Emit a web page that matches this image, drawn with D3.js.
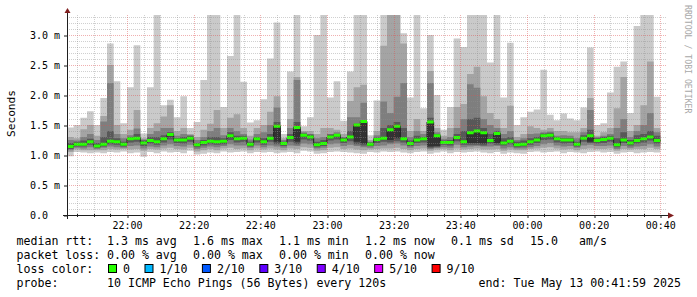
<!DOCTYPE html>
<html>
<head>
<meta charset="utf-8">
<script src="https://cdn.jsdelivr.net/npm/d3@7"></script>
<style>
  body { margin: 0; background: #fff; }
  svg { display: block; }
  text { font-family: "DejaVu Sans Mono", monospace; }
</style>
</head>
<body>
<div id="chart"></div>
<script>
// ---- data (ms), one value per 2 minute step, 10 sorted pings per step ----
const median = [1.14,1.18,1.18,1.22,1.15,1.18,1.23,1.22,1.18,1.27,
  1.28,1.20,1.24,1.22,1.27,1.34,1.25,1.25,1.28,1.17,
  1.21,1.23,1.22,1.23,1.32,1.27,1.28,1.18,1.27,1.22,
  1.28,1.48,1.19,1.29,1.46,1.33,1.30,1.17,1.19,1.30,
  1.33,1.25,1.30,1.50,1.56,1.18,1.26,1.28,1.42,1.48,
  1.27,1.19,1.25,1.27,1.55,1.32,1.21,1.21,1.29,1.22,
  1.37,1.40,1.37,1.24,1.36,1.20,1.23,1.17,1.18,1.22,
  1.25,1.32,1.33,1.27,1.25,1.25,1.18,1.28,1.32,1.24,
  1.26,1.28,1.17,1.25,1.20,1.24,1.27,1.30,1.24];
const ping1 = [0.98,1.05,1.04,1.03,1.04,1.03,1.05,1.04,1.06,1.03,
  1.04,0.97,1.05,1.03,1.06,1.04,1.05,1.03,1.07,1.01,
  1.02,1.04,1.03,1.06,1.04,1.05,1.06,1.03,1.05,1.04,
  1.05,1.03,1.04,1.05,1.03,1.07,1.06,1.02,1.03,1.05,
  1.06,1.05,1.04,1.03,1.02,1.05,1.04,1.06,1.05,1.06,
  1.04,1.03,1.05,1.06,1.02,1.04,1.06,1.03,1.05,1.04,
  1.05,1.06,1.04,1.03,1.05,1.02,1.04,1.03,1.02,1.05,
  1.06,1.04,1.05,1.06,1.03,1.05,1.04,1.03,1.05,1.06,
  1.04,1.05,1.02,1.04,1.05,1.03,1.04,1.05,1.04];
const ping2 = [1.05,1.09,1.08,1.08,1.08,1.08,1.10,1.09,1.10,1.09,
  1.10,1.07,1.10,1.09,1.11,1.12,1.10,1.09,1.12,1.06,
  1.08,1.10,1.08,1.11,1.12,1.10,1.11,1.08,1.11,1.09,
  1.11,1.09,1.08,1.11,1.10,1.13,1.12,1.07,1.08,1.12,
  1.13,1.10,1.11,1.09,1.08,1.09,1.10,1.11,1.11,1.12,
  1.10,1.08,1.10,1.11,1.07,1.09,1.10,1.08,1.11,1.09,
  1.10,1.11,1.09,1.09,1.10,1.07,1.09,1.08,1.08,1.10,
  1.11,1.12,1.13,1.11,1.09,1.10,1.08,1.10,1.11,1.10,
  1.10,1.11,1.07,1.10,1.09,1.10,1.10,1.12,1.10];
const ping3 = [1.08,1.12,1.11,1.13,1.10,1.12,1.14,1.13,1.12,1.15,
  1.16,1.11,1.14,1.13,1.16,1.18,1.15,1.14,1.17,1.10,
  1.12,1.14,1.13,1.15,1.18,1.16,1.16,1.12,1.16,1.13,
  1.16,1.14,1.12,1.16,1.15,1.19,1.18,1.11,1.12,1.18,
  1.19,1.15,1.17,1.15,1.13,1.12,1.15,1.16,1.18,1.19,
  1.16,1.12,1.15,1.16,1.10,1.12,1.13,1.12,1.17,1.13,
  1.14,1.15,1.14,1.14,1.15,1.11,1.13,1.11,1.11,1.13,
  1.15,1.18,1.20,1.16,1.14,1.15,1.12,1.16,1.17,1.15,
  1.15,1.16,1.10,1.15,1.12,1.14,1.15,1.18,1.14];
const ping4 = [1.10,1.14,1.14,1.17,1.12,1.14,1.18,1.17,1.14,1.21,
  1.22,1.15,1.19,1.17,1.21,1.26,1.20,1.19,1.22,1.13,
  1.16,1.18,1.17,1.18,1.25,1.21,1.22,1.14,1.21,1.17,
  1.22,1.18,1.15,1.22,1.18,1.26,1.24,1.13,1.15,1.24,
  1.26,1.20,1.23,1.18,1.16,1.15,1.20,1.22,1.21,1.23,
  1.21,1.15,1.20,1.21,1.12,1.13,1.17,1.16,1.23,1.17,
  1.17,1.17,1.16,1.19,1.17,1.16,1.18,1.13,1.14,1.17,
  1.20,1.25,1.26,1.21,1.19,1.20,1.14,1.22,1.20,1.19,
  1.20,1.22,1.13,1.20,1.16,1.19,1.21,1.24,1.19];
const ping5 = [1.12,1.16,1.16,1.20,1.13,1.16,1.21,1.20,1.16,1.25,
  1.26,1.18,1.22,1.20,1.25,1.31,1.23,1.23,1.26,1.15,
  1.19,1.21,1.20,1.21,1.29,1.25,1.26,1.16,1.25,1.20,
  1.26,1.22,1.17,1.27,1.22,1.31,1.28,1.15,1.17,1.28,
  1.31,1.23,1.28,1.22,1.19,1.16,1.24,1.26,1.25,1.28,
  1.25,1.17,1.23,1.25,1.14,1.15,1.19,1.19,1.27,1.20,
  1.20,1.20,1.19,1.22,1.20,1.18,1.21,1.15,1.16,1.20,
  1.23,1.30,1.31,1.25,1.23,1.23,1.16,1.26,1.22,1.22,
  1.24,1.26,1.15,1.23,1.18,1.22,1.25,1.28,1.22];
const ping6 = [1.16,1.20,1.20,1.24,1.17,1.20,1.25,1.24,1.20,1.29,
  1.30,1.22,1.26,1.24,1.29,1.36,1.27,1.27,1.30,1.19,
  1.23,1.25,1.24,1.25,1.34,1.29,1.30,1.20,1.29,1.24,
  1.30,1.48,1.21,1.31,1.46,1.34,1.32,1.19,1.21,1.32,
  1.34,1.27,1.32,1.50,1.56,1.20,1.28,1.30,1.43,1.49,
  1.29,1.21,1.27,1.29,1.55,1.33,1.23,1.23,1.31,1.24,
  1.38,1.41,1.38,1.26,1.37,1.22,1.25,1.19,1.20,1.24,
  1.27,1.34,1.35,1.29,1.27,1.27,1.20,1.30,1.34,1.26,
  1.28,1.30,1.19,1.27,1.22,1.26,1.29,1.32,1.26];
const ping7 = [1.20,1.22,1.24,1.27,1.20,1.30,1.40,1.28,1.22,1.30,
  1.35,1.24,1.30,1.30,1.33,1.38,1.28,1.30,1.32,1.20,
  1.25,1.30,1.30,1.28,1.38,1.32,1.32,1.22,1.30,1.28,
  1.35,1.55,1.22,1.35,1.55,1.36,1.34,1.22,1.25,1.34,
  1.35,1.29,1.40,1.52,1.58,1.21,1.29,1.45,1.50,1.55,
  1.45,1.24,1.32,1.30,1.62,1.35,1.24,1.25,1.35,1.40,
  1.60,1.62,1.45,1.35,1.40,1.28,1.30,1.22,1.24,1.28,
  1.30,1.36,1.37,1.30,1.28,1.28,1.22,1.33,1.42,1.28,
  1.30,1.32,1.28,1.38,1.25,1.33,1.35,1.40,1.32];
const ping8 = [1.25,1.24,1.30,1.35,1.25,1.56,2.20,1.35,1.28,1.33,
  1.44,1.26,1.35,1.40,1.45,1.45,1.32,1.35,1.33,1.25,
  1.30,1.40,1.45,1.33,1.45,1.40,1.35,1.26,1.35,1.38,
  1.50,1.79,1.25,1.45,2.25,1.38,1.35,1.28,1.30,1.35,
  1.38,1.30,1.63,1.63,1.87,1.22,1.33,1.89,1.70,1.97,
  2.20,1.30,1.40,1.35,2.20,1.38,1.27,1.30,1.45,1.60,
  2.18,2.12,1.60,1.50,1.45,1.35,1.40,1.25,1.28,1.35,
  1.36,1.38,1.39,1.32,1.33,1.32,1.28,1.38,1.75,1.30,
  1.32,1.35,1.45,1.60,1.30,1.40,1.50,1.70,1.38];
const ping9 = [1.30,1.28,1.43,1.50,1.32,1.65,2.50,1.50,1.35,1.42,
  1.75,1.28,1.45,1.53,1.64,1.83,1.40,1.45,1.35,1.30,
  1.42,1.52,1.75,1.45,1.62,1.68,1.45,1.32,1.45,1.50,
  1.72,1.98,1.28,1.60,2.30,1.40,1.40,1.35,1.45,1.45,
  1.42,1.35,1.90,2.13,2.17,1.25,1.40,2.82,3.60,3.50,
  2.86,1.40,1.60,1.40,2.40,1.45,1.32,1.45,1.80,1.85,
  2.35,2.47,1.98,1.70,1.60,1.45,1.82,1.30,1.35,1.48,
  1.45,1.42,1.45,1.40,1.40,1.38,1.38,1.45,1.95,1.32,
  1.38,1.45,1.78,2.30,1.40,1.50,1.83,2.56,1.45];
const ping10 = [1.46,1.50,1.62,1.73,1.50,1.95,2.86,2.23,1.53,2.13,
  2.83,1.36,2.13,3.62,1.83,1.92,1.63,1.98,1.45,1.55,
  2.25,4.10,3.75,1.80,2.65,3.90,2.22,1.54,1.58,1.93,
  2.61,3.21,1.35,2.39,3.55,1.48,1.63,3.00,3.80,1.96,
  2.23,1.57,2.39,4.30,3.70,1.33,1.91,3.65,4.20,3.90,
  3.03,1.96,3.58,1.78,3.00,2.00,1.42,1.80,2.94,2.80,
  3.70,3.85,3.60,2.54,3.95,1.96,2.87,1.50,1.63,1.72,
  1.76,2.42,1.67,1.58,1.69,1.61,1.58,1.79,2.79,1.50,
  1.53,2.04,2.47,2.56,1.70,3.15,3.75,3.60,1.97];

const yTickValues = [0, 0.5, 1.0, 1.5, 2.0, 2.5, 3.0];
const yTickLabels = ["0.0", "0.5 m", "1.0 m", "1.5 m", "2.0 m", "2.5 m", "3.0 m"];
const xTickLabels = ["22:00", "22:20", "22:40", "23:00", "23:20", "23:40", "00:00", "00:20", "00:40"];
const yMax = 10 / 3;

const statLabels = ["median rtt:", "packet loss:"];
const rttStats = ["1.3 ms avg", "1.6 ms max", "1.1 ms min", "1.2 ms now", "0.1 ms sd"];
const lossStats = ["0.00 % avg", "0.00 % max", "0.00 % min", "0.00 % now"];
const lossLevels = ["0", "1/10", "2/10", "3/10", "4/10", "5/10", "9/10"];
const lossColors = ["#26ff00", "#00b8ff", "#0059ff", "#5e00ff", "#7e00ff", "#dd00ff", "#ff0000"];
const probeText = "10 ICMP Echo Pings (56 Bytes) every 120s";
const endText = "end: Tue May 13 00:41:59 2025";

// ---- layout ----
const width = 697, height = 297;
const plot = { left: 67, right: 667, top: 15, bottom: 215 };
const t0 = new Date(Date.UTC(2025, 4, 12, 21, 42));
const t1 = new Date(Date.UTC(2025, 4, 13, 0, 42));
const stepMs = 120000;

const svg = d3.select("#chart").append("svg")
  .attr("width", width)
  .attr("height", height);

svg.append("rect").attr("width", width).attr("height", height).attr("fill", "#fff");

const x = d3.scaleUtc().domain([t0, t1]).range([plot.left, plot.right]);
const y = d3.scaleLinear().domain([0, yMax]).range([plot.bottom, plot.top]);

svg.append("clipPath").attr("id", "plotclip")
  .append("rect")
  .attr("x", plot.left).attr("y", plot.top)
  .attr("width", plot.right - plot.left).attr("height", plot.bottom - plot.top);

const g = svg.append("g").attr("clip-path", "url(#plotclip)");

// step index 0..n, last point repeats the last value so the final step is drawn
const idx = d3.range(median.length + 1);
const tx = i => x(new Date(t0.getTime() + i * stepMs));
const at = (arr, i) => arr[Math.min(i, arr.length - 1)];

// smoke: outer pair first, inner pairs on top
const smoke = [
  [ping1, ping10, "#cacaca"],
  [ping2, ping9, "#a4a4a4"],
  [ping3, ping8, "#7e7e7e"],
  [ping4, ping7, "#585858"],
  [ping5, ping6, "#323232"]
];
smoke.forEach(([lo, hi, col]) => {
  const area = d3.area().curve(d3.curveStepAfter)
    .x(tx)
    .y0(i => y(at(lo, i)))
    .y1(i => y(Math.min(at(hi, i), yMax)));
  g.append("path").attr("d", area(idx)).attr("fill", col);
});

// median line + loss coloured band
const medLine = d3.line().curve(d3.curveStepAfter).x(tx).y(i => y(at(median, i)));
g.append("path").attr("d", medLine(idx)).attr("fill", "none")
  .attr("stroke", "#202020").attr("stroke-width", 1);

const medBand = d3.area().curve(d3.curveStepAfter).x(tx)
  .y0(i => y(at(median, i)) + 1.5)
  .y1(i => y(at(median, i)) - 1.5);
g.append("path").attr("d", medBand(idx)).attr("fill", lossColors[0]);

// ---- grid (drawn over the data like rrdtool) ----
const grid = svg.append("g");
const px = v => Math.round(v) + 0.5;
const xTickTimes = xTickLabels.map(s => {
  const [h, m] = s.split(":").map(Number);
  return new Date(Date.UTC(2025, 4, h < 12 ? 13 : 12, h, m));
});
const majorSet = new Set(xTickTimes.map(d => d.getTime()));
const minorTimes = d3.utcMinute.every(5).range(t0, t1).filter(d => !majorSet.has(d.getTime()) && d > t0);

const minorCol = "rgba(143,143,143,0.42)";
const majorCol = "rgba(222,79,79,0.45)";

grid.selectAll(".vmin").data(minorTimes).join("line")
  .attr("x1", d => px(x(d))).attr("x2", d => px(x(d)))
  .attr("y1", plot.top).attr("y2", plot.bottom)
  .attr("stroke", minorCol).attr("stroke-dasharray", "1,1");

const hMinor = d3.range(1, 34).filter(i => i % 5 !== 0).map(i => i / 10);
grid.selectAll(".hmin").data(hMinor).join("line")
  .attr("x1", plot.left).attr("x2", plot.right)
  .attr("y1", d => px(y(d))).attr("y2", d => px(y(d)))
  .attr("stroke", minorCol).attr("stroke-dasharray", "1,1");

grid.selectAll(".vmaj").data(xTickTimes).join("line")
  .attr("x1", d => px(x(d))).attr("x2", d => px(x(d)))
  .attr("y1", plot.top).attr("y2", plot.bottom)
  .attr("stroke", majorCol).attr("stroke-dasharray", "1,1");

grid.selectAll(".hmaj").data(yTickValues.slice(1)).join("line")
  .attr("x1", plot.left).attr("x2", plot.right)
  .attr("y1", d => px(y(d))).attr("y2", d => px(y(d)))
  .attr("stroke", majorCol).attr("stroke-dasharray", "1,1");

// ---- axes ----
const axisCol = "#1f1f1f";
const arrowCol = "#801f1f";

const xAxis = svg.append("g")
  .attr("transform", `translate(0,${plot.bottom})`)
  .call(d3.axisBottom(x).tickValues(xTickTimes).tickFormat(d3.utcFormat("%H:%M")).tickSize(3).tickPadding(3));
xAxis.select(".domain").remove();
xAxis.selectAll("line").attr("stroke", axisCol).attr("transform", d => `translate(${px(x(d)) - x(d)},0)`);
xAxis.selectAll("text")
  .attr("font-family", "DejaVu Sans Mono").attr("font-size", 10).attr("fill", "#000")
  .attr("dy", null).attr("y", 13.5);

svg.append("g").selectAll("line").data(minorTimes).join("line")
  .attr("x1", d => px(x(d))).attr("x2", d => px(x(d)))
  .attr("y1", plot.bottom - 1).attr("y2", plot.bottom + 2)
  .attr("stroke", axisCol);

const yAxis = svg.append("g")
  .attr("transform", `translate(${plot.left},0)`)
  .call(d3.axisLeft(y).tickValues(yTickValues).tickFormat((d, i) => yTickLabels[i]).tickSize(3));
yAxis.select(".domain").remove();
yAxis.selectAll("line").attr("stroke", axisCol).attr("transform", d => `translate(0,${px(y(d)) - y(d)})`);
yAxis.selectAll("text")
  .attr("font-family", "DejaVu Sans Mono").attr("font-size", 10).attr("fill", "#000")
  .attr("text-anchor", "start").attr("x", 30 - plot.left).attr("dy", "0.36em");

svg.append("line")
  .attr("x1", plot.left - 4).attr("x2", plot.right + 2)
  .attr("y1", plot.bottom + 0.5).attr("y2", plot.bottom + 0.5)
  .attr("stroke", axisCol);
svg.append("line")
  .attr("x1", plot.left + 0.5).attr("x2", plot.left + 0.5)
  .attr("y1", plot.bottom + 4).attr("y2", plot.top - 3)
  .attr("stroke", axisCol);

svg.append("path")
  .attr("d", `M${plot.right + 1},${plot.bottom - 2.5}L${plot.right + 7},${plot.bottom + 0.5}L${plot.right + 1},${plot.bottom + 3.5}Z`)
  .attr("fill", arrowCol);
svg.append("path")
  .attr("d", `M${plot.left - 2.5},${plot.top - 2}L${plot.left + 0.5},${plot.top - 7}L${plot.left + 3.5},${plot.top - 2}Z`)
  .attr("fill", arrowCol);

// axis title + watermark
svg.append("text")
  .attr("transform", `translate(15,${(plot.top + plot.bottom) / 2 - 1.5}) rotate(-90)`)
  .attr("text-anchor", "middle").attr("font-size", 11.2).attr("fill", "#000")
  .text("Seconds");

svg.append("text")
  .attr("transform", "translate(685,5) rotate(90)")
  .attr("font-size", 8.2).attr("fill", "#a8a8a8")
  .text("RRDTOOL / TOBI OETIKER");

// ---- legend ----
const leg = svg.append("g").attr("font-size", 11.6).attr("fill", "#000");
const col0 = 16.5, col1 = 107, colStep = 86;
const rowY = [245, 259, 273, 287];

leg.append("text").attr("x", col0).attr("y", rowY[0]).text(statLabels[0]);
rttStats.forEach((s, i) => leg.append("text").attr("x", col1 + i * colStep).attr("y", rowY[0]).text(s));
leg.append("text").attr("x", 530).attr("y", rowY[0]).text("15.0");
leg.append("text").attr("x", 579).attr("y", rowY[0]).text("am/s");

leg.append("text").attr("x", col0).attr("y", rowY[1]).text(statLabels[1]);
lossStats.forEach((s, i) => leg.append("text").attr("x", col1 + i * colStep).attr("y", rowY[1]).text(s));

leg.append("text").attr("x", col0).attr("y", rowY[2]).text("loss color:");
let lx = 108.5;
lossLevels.forEach((s, i) => {
  leg.append("rect").attr("x", lx).attr("y", rowY[2] - 8.5).attr("width", 8).attr("height", 8)
    .attr("fill", lossColors[i]).attr("stroke", "#000").attr("stroke-width", 1);
  const t = leg.append("text").attr("x", lx + 14.5).attr("y", rowY[2]).text(s);
  lx = lx + 14.5 + t.node().getComputedTextLength() + 15;
});

leg.append("text").attr("x", col0).attr("y", rowY[3]).text("probe:");
leg.append("text").attr("x", col1).attr("y", rowY[3]).text(probeText);
leg.append("text").attr("x", 681).attr("y", rowY[3]).attr("text-anchor", "end").text(endText);
</script>
</body>
</html>
